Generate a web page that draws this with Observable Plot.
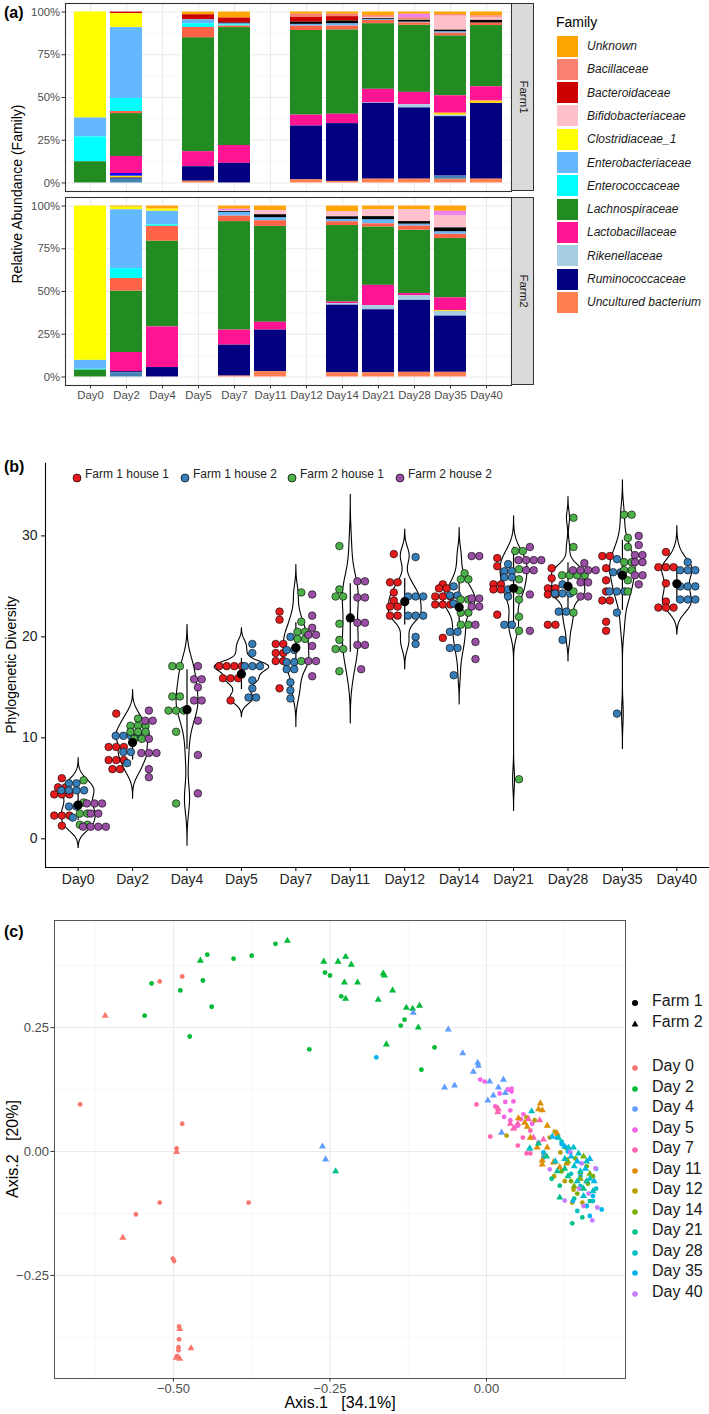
<!DOCTYPE html>
<html>
<head>
<meta charset="utf-8">
<script src="https://cdn.jsdelivr.net/npm/d3@7"></script>
<script src="https://cdn.jsdelivr.net/npm/@observablehq/plot@0.6"></script>
<style>
html,body{margin:0;padding:0;background:#fff;}
#root{position:relative;width:709px;height:1414px;overflow:hidden;font-family:"Liberation Sans",Arial,sans-serif;color:#1a1a1a;}
</style>
</head>
<body>
<div id="root"></div>
<script>
// ================= Panel (a): relative abundance (%) =================
const daysA = ["Day0","Day2","Day4","Day5","Day7","Day11","Day12","Day14","Day21","Day28","Day35","Day40"];
const sampleFarm = ["Farm1","Farm1","Farm1","Farm1","Farm1","Farm1","Farm1","Farm1","Farm1","Farm1","Farm2","Farm2","Farm2","Farm2","Farm2","Farm2","Farm2","Farm2","Farm2"];
const sampleDay = ["Day0","Day2","Day5","Day7","Day12","Day14","Day21","Day28","Day35","Day40","Day0","Day2","Day4","Day7","Day11","Day14","Day21","Day28","Day35"];
const unknown        = [0,0,1.6,3.5,1.3,1.3,2.1,1.3,1.5,2.2, 0,0.7,1.8,1.9,2.6,3.2,2.2,2.2,3.1];
const bacillaceae    = [0,0,0,0,1.8,1.4,1.0,1.1,0.9,0.9, 0,0,0,0,0,0,0,0,0];
const bacteroidaceae = [0,0.9,3.0,2.9,2.8,2.6,0,0,0,0, 0,0,0,0,0,0,0,0,0];
const bifidobact     = [0,0,0,0,0,0,0.8,0.4,8.2,1.8, 0,0,0,0.4,2.5,3.1,4.0,6.9,7.3];
const clostridiaceae = [62.0,8.2,0,0,0,0,0,0,0,0, 90.3,1.5,1.3,0,0,0,0,0,0];
const enterobact     = [11.1,41.5,2.2,0.7,1.0,1.4,0.5,0.5,0.9,0, 5.2,34.4,7.9,2.2,1.8,1.4,2.4,1.1,1.5];
const enterococc     = [14.5,7.6,2.2,0.7,0,0,0,0,0,0, 0.5,5.8,0.9,0,0,0,0,0,0];
const lachno         = [12.4,25.1,66.7,69.0,49.5,49.4,38.4,39.3,35.1,35.8, 4.0,36.0,50.2,63.5,56.1,44.8,34.2,37.1,34.7];
const lacto          = [0,10.0,8.8,10.4,6.4,5.5,7.9,7.3,10.2,8.4, 0,11.2,23.8,8.8,4.6,0.9,11.9,1.3,7.4];
const rikenell       = [0,0,0,0,0,0,0.3,1.8,0.9,0, 0,0,0,0,0,0.9,2.4,2.7,2.8];
const rumino         = [0,0.8,8.5,11.5,31.5,33.8,44.4,41.7,34.8,44.4, 0,0.7,5.5,18.1,24.3,39.6,36.9,42.1,32.9];
const uncultured     = [0,0,1.0,0,1.8,0.9,2.2,2.2,2.2,2.2, 0,0,0,0.5,3.1,2.4,2.4,2.7,2.7];
// minor families visible in the bars
const otherSteel  = [0,2.2,0,0,0,0,0,0,1.8,0, 0,2.4,0,0,0,0,0,0,0];
const otherGold   = [0,1.0,0,0,0,0,0,0,1.1,1.3, 0,0,0,0,0,0,0,0,0.5];
const otherBlue   = [0,1.5,0,0,0,0,0,0,0,0, 0,0,0,0,0,0,0,0,0];
const otherTomato = [0,1.2,6.0,0.9,2.6,2.2,1.9,1.3,1.5,1.5, 0,7.3,8.6,3.2,3.3,2.2,1.8,2.4,2.5];
const otherBlack  = [0,0,0,0.4,1.3,1.5,0.5,1.1,0.9,1.5, 0,0,0,0.5,1.7,1.5,1.8,1.5,2.2];
const otherViolet = [0,0,0,0,0,0,0,2.0,0,0, 0,0,0,0.9,0,0,0,0,2.4];

const familyNames  = ["Unknown","Bacillaceae","Bacteroidaceae","Bifidobacteriaceae","Clostridiaceae_1","Enterobacteriaceae","Enterococcaceae","Lachnospiraceae","Lactobacillaceae","Rikenellaceae","Ruminococcaceae","Uncultured bacterium"];
const familyColors = ["#FFA500","#FA8072","#CD0000","#FFC0CB","#FFFF00","#63B8FF","#00FFFF","#228B22","#FF1493","#A6CEE3","#000080","#FF7F50"];
const otherNames   = ["other steel","other gold","other blue","other tomato","other black","other violet"];
const otherColors  = ["#4682B4","#FFD700","#0000FF","#FF6347","#000000","#EE82EE"];
const stackOrder = ["Uncultured bacterium","other steel","Ruminococcaceae","Rikenellaceae","other gold","other blue","Lactobacillaceae","Lachnospiraceae","other tomato","Enterococcaceae","Enterobacteriaceae","Clostridiaceae_1","other black","Bifidobacteriaceae","Bacteroidaceae","Bacillaceae","other violet","Unknown"];

// ================= Panel (b): phylogenetic diversity =================
const daysB = ["Day0","Day2","Day4","Day5","Day7","Day11","Day12","Day14","Day21","Day28","Day35","Day40"];
const groupNames = ["Farm 1 house 1","Farm 1 house 2","Farm 2 house 1","Farm 2 house 2"];
const groupColors = ["#E41A1C","#377EB8","#4DAF4A","#984EA3"];
const house11 = [
 [6.0,5.1,5.1,4.4,4.4,4.4,2.3,2.3,2.3,1.3],
 [12.4,9.1,9.1,9.1,7.8,7.8,7.8,6.9,6.9],
 [],
 [17.1,17.1,17.1,17.1,15.9,15.9,15.9,13.7],
 [22.5,21.7,19.3,19.3,18.4,18.4,17.6,17.6,14.9],
 [],
 [28.2,25.4,25.4,24.4,23.6,23.0,23.0,22.1,22.1],
 [25.2,24.8,24.8,24.0,24.0,24.0,23.2,23.2,23.2,19.9],
 [27.8,27.0,25.2,25.2,24.7,24.7,22.2],
 [26.8,25.8,24.8,24.8,24.2,24.2,21.2,21.2],
 [28.0,28.0,26.8,25.6,24.5,23.6,23.6,21.5,20.6],
 [28.4,26.9,26.9,26.9,25.3,23.5,22.9,22.9,22.9]
];
const house12 = [
 [5.5,5.5,4.8,4.8,4.8,4.8,3.2,3.2,2.1],
 [10.2,10.2,10.2,10.2,8.6,8.6,7.5],
 [],
 [19.3,18.4,17.1,17.1,17.1,15.7,14.9,14.0,14.0],
 [20.0,18.7,18.7,17.5,17.5,16.8,16.8,15.5,14.7,13.9],
 [],
 [27.9,24.0,24.0,24.0,22.1,22.1,22.1,20.0,19.3],
 [25.0,24.1,24.1,23.3,20.5,20.5,18.9,18.9,16.2],
 [27.2,26.5,26.5,25.9,25.9,24.7,24.0,21.2,21.2],
 [25.2,24.3,24.3,24.3,22.5,22.5,19.7],
 [27.7,26.4,26.4,24.5,24.5,24.5,22.4,12.4],
 [27.4,26.6,26.6,26.6,25.0,25.0,25.0,23.7,23.7,23.7]
];
const house21 = [
 [5.8,3.6,2.5,2.5,1.4,1.4],
 [11.9,11.2,11.2,11.2,10.6,10.6,10.6,9.9,9.9],
 [17.1,17.1,14.1,14.1,12.7,12.7,12.7,10.6,3.5],
 [],
 [24.4,21.5,20.5,20.5,19.8,19.8,17.6],
 [29.0,24.7,24.0,24.0,21.3,19.7,18.8,18.8,16.6],
 [],
 [26.3,25.7,25.7,23.7,23.7,22.4,22.4,21.2,21.2],
 [28.5,28.5,26.7,25.7,24.6,23.7,22.0,20.6,5.9],
 [31.8,28.9,26.1,26.1,26.1,26.1,24.5,22.4],
 [32.1,32.1,29.8,28.9,27.4,27.4,26.6,26.6,25.6,24.5],
 []
];
const house22 = [
 [3.5,3.5,3.5,2.5,2.5,1.2,1.2,1.2,1.2],
 [12.7,11.7,11.7,9.9,8.5,8.5,8.5,6.9,6.1],
 [17.1,15.8,15.8,15.0,13.7,13.7,11.7,8.3,4.5],
 [],
 [24.2,22.1,20.9,20.2,20.2,19.1,17.6,17.6,16.1],
 [25.5,25.5,23.9,23.9,21.4,21.4,19.2,19.2,16.8],
 [],
 [28.0,28.0,23.8,23.8,23.0,23.0,21.2,19.5,17.8],
 [28.9,27.6,27.6,27.6,27.6,26.6,26.6,24.2,20.6],
 [27.3,26.6,26.6,26.6,26.6,25.4,25.4,24.0,24.0],
 [30.0,29.1,28.1,28.1,27.4,27.4,26.1,26.1,25.2],
 []
];

// ================= Panel (c): PCoA  [Axis.1, Axis.2, farm] =================
const dayLabelsC = ["Day 0","Day 2","Day 4","Day 5","Day 7","Day 11","Day 12","Day 14","Day 21","Day 28","Day 35","Day 40"];
const dayColorsC = ["#F8766D","#00BA38","#619CFF","#F564E3","#FF64B0","#DE8C00","#B79F00","#7CAE00","#00C08B","#00BFC4","#00B4F0","#C77CFF"];
const pcDay0 = [[-0.522,0.343,1],[-0.486,0.353,1],[-0.649,0.095,1],[-0.486,0.056,1],[-0.495,0.006,1],[-0.522,-0.103,1],[-0.560,-0.127,1],[-0.501,-0.216,1],[-0.499,-0.221,1],[-0.380,-0.103,1],[-0.491,-0.353,1],[-0.491,-0.379,1],[-0.492,-0.395,1],[-0.492,-0.401,1],[-0.494,-0.413,1],
 [-0.609,0.274,2],[-0.495,-0.001,2],[-0.581,-0.174,2],[-0.490,-0.358,2],[-0.472,-0.397,2],[-0.496,-0.416,2],[-0.490,-0.418,2]];
const pcDay2 = [[-0.535,0.339,1],[-0.546,0.274,1],[-0.489,0.325,1],[-0.446,0.397,1],[-0.453,0.345,1],[-0.439,0.292,1],[-0.474,0.232,1],[-0.404,0.389,1],[-0.375,0.395,1],[-0.337,0.419,1],[-0.258,0.361,1],[-0.250,0.355,1],[-0.232,0.313,1],[-0.283,0.206,1],[-0.131,0.266,1],[-0.137,0.254,1],[-0.083,0.210,1],[-0.104,0.165,1],
 [-0.457,0.385,2],[-0.318,0.425,2],[-0.260,0.383,2],[-0.237,0.383,2],[-0.225,0.393,2],[-0.216,0.377,2],[-0.227,0.341,2],[-0.206,0.341,2],[-0.225,0.308,2],[-0.165,0.359,2],[-0.163,0.355,2],[-0.150,0.325,2],[-0.173,0.306,2],[-0.128,0.290,2],[-0.118,0.288,2],[-0.107,0.294,2],[-0.109,0.250,2],[-0.160,0.216,2]];
const pcDay4 = [[-0.262,0.010,2],[-0.257,-0.016,2],[-0.117,0.280,2],[-0.061,0.246,2],[-0.038,0.198,2],[-0.014,0.179,2],[-0.013,0.173,2],[-0.021,0.161,2],[-0.067,0.129,2],[-0.051,0.133,2],[0.005,0.141,2],[0.019,0.129,2],[0.027,0.145,2],[0.002,0.103,2],[0.011,0.113,2],[0.024,0.038,2],[0.030,0.118,2]];
const pcDay5 = [[-0.010,0.145,1],[-0.003,0.141,1],[0.021,0.117,1],[0.034,0.125,1],[0.040,0.127,1],[0.040,0.121,1],[0.043,0.101,1],[0.014,0.091,1],[0.038,0.083,1],[0.030,0.100,1],[0.059,0.075,1],[0.050,0.052,1],[0.073,0.056,1],[0.038,0.063,1],[0.083,0.018,1],[0.055,0.065,1],[0.045,0.048,1],[0.028,0.070,1]];
const pcDay7 = [[-0.016,0.095,1],[0.006,0.030,1],[0.016,0.089,1],[0.050,0.012,1],[0.064,-0.004,1],[0.070,-0.004,1],[0.066,0.067,1],[0.070,0.042,1],[0.058,0.028,1],
 [0.019,0.085,2],[0.038,0.056,2],[0.050,0.056,2],[0.043,0.046,2],[0.067,0.065,2],[0.085,0.063,2],[0.075,0.028,2],[0.091,0.024,2],[0.018,0.079,2]];
const pcDay11 = [[0.086,0.097,2],[0.083,0.085,2],[0.089,0.083,2],[0.051,0.067,2],[0.061,0.058,2],[0.065,0.050,2],[0.097,0.052,2],[0.070,0.028,2],[0.081,0.008,2],[0.097,0.008,2],[0.113,0.036,2],[0.089,-0.018,2],[0.089,-0.026,2],[0.107,-0.022,2],[0.117,-0.032,2],[0.128,-0.024,2]];
const pcDay12 = [[0.032,0.032,1],[0.064,0.069,1],[0.077,0.063,1],[0.109,0.040,1],[0.101,0.028,1],[0.091,-0.004,1],[0.118,-0.002,1],[0.128,-0.016,1],[0.137,-0.103,1],[0.139,-0.077,1],[0.153,-0.103,1],[0.108,-0.050,1],[0.125,-0.060,1]];
const pcDay14 = [[0.126,0.008,1],[0.142,-0.014,1],[0.150,-0.045,1],[0.160,-0.030,1],[0.135,-0.060,1],[0.162,-0.065,1],[0.120,-0.040,1],[0.145,-0.085,1],[0.170,-0.050,1],
 [0.130,-0.020,2],[0.155,-0.010,2],[0.165,-0.045,2],[0.140,-0.070,2],[0.150,-0.055,2]];
const pcDay21 = [[0.117,-0.069,1],[0.137,-0.145,1],[0.153,-0.133,1],[0.104,-0.055,1],[0.140,-0.095,1],[0.165,-0.100,1],
 [-0.241,-0.040,2],[0.069,0.006,2],[0.083,0.016,2],[0.113,-0.040,2],[0.117,-0.093,2],[0.096,-0.010,2],[0.130,-0.050,2],[0.125,-0.035,2],[0.155,-0.075,2],[0.160,-0.060,2]];
const pcDay28 = [[0.120,0.020,1],[0.135,-0.045,1],[0.150,-0.070,1],[0.160,-0.110,1],[0.170,-0.100,1],[0.145,-0.120,1],[0.175,-0.075,1],
 [0.072,0.081,2],[0.069,0.006,2],[0.115,0.028,2],[0.131,0.008,2],[0.139,0.008,2],[0.147,-0.004,2],[0.125,-0.015,2],[0.140,-0.030,2],[0.150,-0.040,2],[0.160,-0.020,2],[0.165,-0.055,2],[0.155,-0.090,2],[0.170,-0.080,2],[0.145,-0.060,2],[0.110,-0.020,2]];
const pcDay35 = [[-0.176,0.190,1],[0.113,0.028,1],[0.091,-0.002,1],[0.091,-0.012,1],[0.120,0.015,1],[0.130,0.000,1],[0.184,-0.117,1],[0.150,-0.050,1],[0.170,-0.090,1],[0.165,-0.130,1],[0.160,-0.110,1],[0.138,-0.100,1],[0.175,-0.035,1],
 [0.105,0.030,2],[0.125,0.010,2],[0.145,-0.020,2],[0.158,-0.035,2],[0.172,-0.060,2],[0.135,-0.010,2],[0.165,-0.015,2]];
const pcDay40 = [[0.134,-0.002,1],[0.101,-0.036,1],[0.125,-0.099,1],[0.152,-0.024,1],[0.169,-0.139,1],[0.177,-0.113,1],[0.174,-0.034,1],[0.163,-0.085,1],[0.148,-0.075,1],[0.160,-0.060,1],[0.155,-0.110,1]];

// ================= helpers =================
const root = document.getElementById("root");
const FONT = "Liberation Sans, Arial, sans-serif";
function place(node, left, top) {
  const d = document.createElement("div");
  d.style.cssText = `position:absolute;left:${left}px;top:${top}px;`;
  d.appendChild(node); root.appendChild(d);
}
function text(t, x, y, css = "", anchor = "middle", rot = 0) {
  const d = document.createElement("div");
  d.textContent = t;
  const tx = anchor === "start" ? "0" : anchor === "end" ? "-100%" : "-50%";
  d.style.cssText = `position:absolute;left:${x}px;top:${y}px;white-space:pre;line-height:1;transform:translate(${tx},-50%)${rot ? ` rotate(${rot}deg)` : ""};${css}`;
  root.appendChild(d);
}
function box(x, y, w, h, css) {
  const d = document.createElement("div");
  d.style.cssText = `position:absolute;left:${x}px;top:${y}px;width:${w}px;height:${h}px;box-sizing:border-box;${css}`;
  root.appendChild(d);
}

// ================= Panel (a) =================
const seriesA = [
  ["Unknown", unknown], ["Bacillaceae", bacillaceae], ["Bacteroidaceae", bacteroidaceae],
  ["Bifidobacteriaceae", bifidobact], ["Clostridiaceae_1", clostridiaceae], ["Enterobacteriaceae", enterobact],
  ["Enterococcaceae", enterococc], ["Lachnospiraceae", lachno], ["Lactobacillaceae", lacto],
  ["Rikenellaceae", rikenell], ["Ruminococcaceae", rumino], ["Uncultured bacterium", uncultured],
  ["other steel", otherSteel], ["other gold", otherGold], ["other blue", otherBlue],
  ["other tomato", otherTomato], ["other black", otherBlack], ["other violet", otherViolet]
];
const PANEL_A_H = 188;
function panelA(farm, withX) {
  const rows = [];
  sampleDay.forEach((d, j) => {
    if (sampleFarm[j] !== farm) return;
    for (const [name, arr] of seriesA) if (arr[j] > 0) rows.push({day: d, family: name, value: arr[j]});
  });
  const marks = [
    Plot.gridY([12.5, 37.5, 62.5, 87.5], {stroke: "#F2F2F2", strokeOpacity: 1, strokeWidth: 0.6}),
    Plot.gridY([0, 25, 50, 75, 100], {stroke: "#EBEBEB", strokeOpacity: 1, strokeWidth: 1.1}),
    Plot.gridX(daysA, {stroke: "#EBEBEB", strokeOpacity: 1, strokeWidth: 1.1}),
    Plot.barY(rows, {x: "day", y: "value", fill: "family", z: "family", order: stackOrder}),
    Plot.frame({stroke: "#333", strokeWidth: 1.1}),
    Plot.axisY({ticks: [0, 25, 50, 75, 100], tickFormat: d => d + "%", tickSize: 3.5, tickPadding: 2, fontSize: 11.3, fill: "#4D4D4D", stroke: "#333"})
  ];
  if (withX) marks.push(Plot.axisX({tickSize: 3.5, tickPadding: 2, fontSize: 11.3, fill: "#4D4D4D", stroke: "#333"}));
  return Plot.plot({
    width: 709, height: PANEL_A_H + (withX ? 28 : 4),
    marginLeft: 65, marginRight: 198, marginTop: 3, marginBottom: withX ? 25 : 1,
    style: {fontFamily: FONT, background: "transparent", overflow: "visible"},
    x: {domain: daysA, paddingInner: 0.1, paddingOuter: 0.15, label: null, axis: withX ? undefined : null},
    y: {domain: [-5, 105], label: null},
    color: {domain: familyNames.concat(otherNames), range: familyColors.concat(otherColors)},
    marks
  });
}
place(panelA("Farm1", false), 0, 0);
place(panelA("Farm2", true), 0, 194);
// strips
box(511, 3, 23, PANEL_A_H, "background:#D9D9D9;border:1.1px solid #333;");
box(511, 197, 23, PANEL_A_H, "background:#D9D9D9;border:1.1px solid #333;");
text("Farm1", 522.5, 3 + PANEL_A_H / 2, "font-size:11.5px;color:#1A1A1A;", "middle", 90);
text("Farm2", 522.5, 197 + PANEL_A_H / 2, "font-size:11.5px;color:#1A1A1A;", "middle", 90);
text("(a)", 4, 13, "font-size:16px;font-weight:bold;color:#000;", "start");
text("Relative Abundance (Family)", 17, 194, "font-size:14px;color:#000;", "middle", -90);
// legend (a)
text("Family", 556, 22, "font-size:14px;color:#000;", "start");
familyNames.forEach((n, i) => {
  const yc = 46 + i * 23.3;
  box(557, yc - 10.5, 21, 21, `background:${familyColors[i]};`);
  text(n, 587, yc, "font-size:12px;font-style:italic;color:#1A1A1A;", "start");
});

// ================= Panel (b) =================
const groupsB = [house11, house12, house21, house22];
const dotStep = 7.6 / 54.45;
const ptsB = [], violB = [], sumB = [];
function nrd0(v) {
  const sd = d3.deviation(v);
  const iqr = d3.quantile(v, 0.75) - d3.quantile(v, 0.25);
  let lo = Math.min(sd, iqr / 1.34);
  if (!(lo > 0)) lo = sd || 1;
  return 0.9 * lo * Math.pow(v.length, -0.2);
}
const dens = [];
daysB.forEach((d, i) => {
  const present = groupsB.map((g, gi) => [g[i], gi]).filter(([a]) => a.length);
  const n = present.length;
  present.forEach(([vals, gi], k) => {
    const cx = i - 0.4 + (k + 0.5) * 0.8 / n;
    const rowsByVal = d3.group(vals, v => v);
    for (const [v, arr] of rowsByVal) arr.forEach((_, j) => ptsB.push({x: cx + (j - (arr.length - 1) / 2) * dotStep, y: v, fill: groupColors[gi]}));
  });
  const all = present.flatMap(([a]) => a);
  const bw = nrd0(all);
  const lo = d3.min(all) - 3 * bw, hi = d3.max(all) + 3 * bw;
  const grid = d3.range(161).map(k => lo + (hi - lo) * k / 160);
  const den = grid.map(y => d3.mean(all, v => Math.exp(-0.5 * ((y - v) / bw) ** 2)) / (bw * Math.sqrt(2 * Math.PI)));
  dens.push({i, grid, den});
  const m = d3.mean(all), s = d3.deviation(all);
  sumB.push({i, mean: m, lo: m - s, hi: m + s});
});
const maxDen = d3.max(dens, d => d3.max(d.den));
for (const {i, grid, den} of dens) {
  const half = den.map(v => v / maxDen * 0.5);
  grid.forEach((y, k) => violB.push({i, x: i + half[k], y}));
  for (let k = grid.length - 1; k >= 0; k--) violB.push({i, x: i - half[k], y: grid[k]});
  violB.push({i, x: i + half[0], y: grid[0]});
}
const plotB = Plot.plot({
  width: 709, height: 467, marginLeft: 45, marginRight: 0, marginTop: 22.7, marginBottom: 40,
  style: {fontFamily: FONT, background: "transparent", overflow: "visible"},
  x: {domain: [-0.6, 11.6], label: null},
  y: {domain: [-2.84, 37.2], label: null},
  color: {type: "identity"},
  marks: [
    Plot.line(violB, {x: "x", y: "y", z: "i", stroke: "#000", strokeWidth: 1.1}),
    Plot.ruleX(sumB, {x: "i", y1: "lo", y2: "hi", stroke: "#000", strokeWidth: 1.2}),
    Plot.dot(ptsB, {x: "x", y: "y", fill: "fill", r: 3.8, stroke: "#000", strokeWidth: 0.6}),
    Plot.dot(sumB, {x: "i", y: "mean", r: 4.6, fill: "#000"}),
    Plot.ruleX([-0.6], {stroke: "#000", strokeWidth: 1.1}),
    Plot.ruleY([-2.84], {stroke: "#000", strokeWidth: 1.1}),
    Plot.axisX({ticks: d3.range(12), tickFormat: i => daysB[i], tickSize: 4, tickPadding: 3, fontSize: 14, fill: "#222", stroke: "#000"}),
    Plot.axisY({ticks: [0, 10, 20, 30], tickSize: 4, tickPadding: 4, fontSize: 14, fill: "#222", stroke: "#000"})
  ]
});
place(plotB, 0, 440);
text("(b)", 4, 467, "font-size:16px;font-weight:bold;color:#000;", "start");
text("Phylogenetic Diversity", 11, 665, "font-size:14px;color:#000;", "middle", -90);
const legBx = [77, 185, 292, 400];
groupNames.forEach((n, i) => {
  const d = document.createElement("div");
  d.style.cssText = `position:absolute;left:${legBx[i] - 5}px;top:469px;width:10px;height:10px;`;
  d.innerHTML = `<svg width="10" height="10"><circle cx="5" cy="5" r="4" fill="${groupColors[i]}" stroke="#000" stroke-width="0.7"/></svg>`;
  root.appendChild(d);
  text(n, legBx[i] + 8, 474, "font-size:12px;color:#222;", "start");
});

// ================= Panel (c) =================
const pcAll = [pcDay0, pcDay2, pcDay4, pcDay5, pcDay7, pcDay11, pcDay12, pcDay14, pcDay21, pcDay28, pcDay35, pcDay40];
const ptsC = pcAll.flatMap((arr, di) => arr.map(([x, y, f]) => ({x, y, day: dayLabelsC[di], farm: f})));
const plotC = Plot.plot({
  width: 709, height: 514, marginLeft: 54, marginRight: 84, marginTop: 20, marginBottom: 36,
  style: {fontFamily: FONT, background: "transparent", overflow: "visible"},
  x: {domain: [-0.690, 0.222], label: null},
  y: {domain: [-0.458, 0.466], label: null},
  color: {domain: dayLabelsC, range: dayColorsC},
  marks: [
    Plot.gridX([-0.625, -0.375, -0.125, 0.125], {stroke: "#F0F0F0", strokeOpacity: 1, strokeWidth: 0.6}),
    Plot.gridY([-0.375, -0.125, 0.125, 0.375], {stroke: "#F0F0F0", strokeOpacity: 1, strokeWidth: 0.6}),
    Plot.gridX([-0.5, -0.25, 0], {stroke: "#EBEBEB", strokeOpacity: 1, strokeWidth: 1.1}),
    Plot.gridY([-0.25, 0, 0.25], {stroke: "#EBEBEB", strokeOpacity: 1, strokeWidth: 1.1}),
    Plot.dot(ptsC.filter(d => d.farm === 1), {x: "x", y: "y", fill: "day", r: 2.4, symbol: "circle"}),
    Plot.dot(ptsC.filter(d => d.farm === 2), {x: "x", y: "y", fill: "day", r: 2.6, symbol: "triangle"}),
    Plot.frame({stroke: "#555", strokeWidth: 1}),
    Plot.axisX({ticks: [-0.5, -0.25, 0], tickFormat: d3.format(".2f"), tickSize: 3.5, tickPadding: 2, fontSize: 13, fill: "#4D4D4D", stroke: "#333"}),
    Plot.axisY({ticks: [-0.25, 0, 0.25], tickFormat: d3.format(".2f"), tickSize: 3.5, tickPadding: 2, fontSize: 13, fill: "#4D4D4D", stroke: "#333"})
  ]
});
place(plotC, 0, 900);
text("(c)", 4, 932, "font-size:16px;font-weight:bold;color:#000;", "start");
text("Axis.1   [34.1%]", 340, 1403, "font-size:16px;color:#000;");
text("Axis.2   [20%]", 13, 1149, "font-size:16px;color:#000;", "middle", -90);
// legend (c)
function sym(x, y, html) {
  const d = document.createElement("div");
  d.style.cssText = `position:absolute;left:${x - 6}px;top:${y - 6}px;width:12px;height:12px;`;
  d.innerHTML = `<svg width="12" height="12">${html}</svg>`;
  root.appendChild(d);
}
sym(635, 1001, `<circle cx="6" cy="6" r="3" fill="#000"/>`);
text("Farm 1", 652, 1001, "font-size:16px;color:#1A1A1A;", "start");
sym(635, 1022, `<path d="M6,2.6L9.4,8.6H2.6Z" fill="#000"/>`);
text("Farm 2", 652, 1022, "font-size:16px;color:#1A1A1A;", "start");
dayLabelsC.forEach((n, i) => {
  const y = 1066 + i * 20.5;
  sym(635, y, `<circle cx="6" cy="6" r="2.8" fill="${dayColorsC[i]}"/>`);
  text(n, 652, y, "font-size:16px;color:#1A1A1A;", "start");
});
</script>
</body>
</html>
